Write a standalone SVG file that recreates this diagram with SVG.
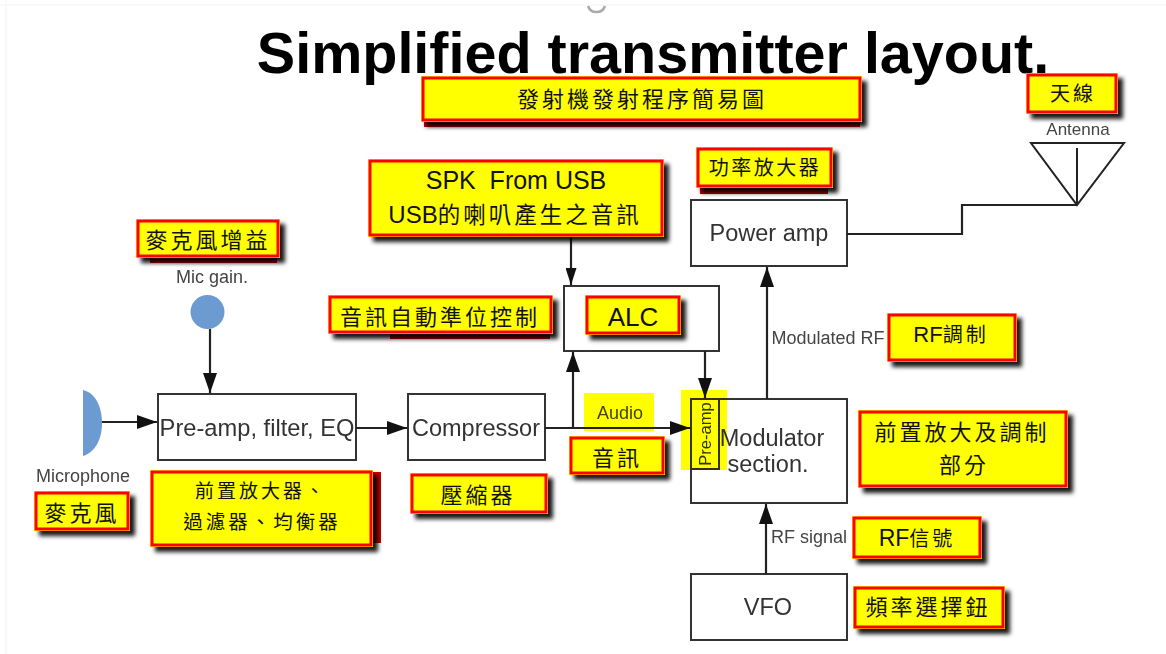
<svg xmlns="http://www.w3.org/2000/svg" width="1166" height="654" viewBox="0 0 1166 654">
<style>
text{font-family:"Liberation Sans",Arial,"Noto Sans CJK TC",sans-serif;text-anchor:middle;white-space:pre}
.box{fill:#fff;stroke:#333;stroke-width:2}
.lbl{font-size:23.5px;fill:#333}
.small{font-size:18px;fill:#444}
.co-o{fill:#ff0;filter:url(#sh)}
.co-i{fill:#ff0;stroke:#f00;stroke-width:3}
.back{fill:#c00}
.cj{font-family:"Noto Sans CJK TC","Liberation Sans",sans-serif;font-size:22px;fill:#111;letter-spacing:3px}
.en{font-size:26px;fill:#111}
.hl{fill:#ff0;mix-blend-mode:multiply}
.c{fill:none;stroke:#222;stroke-width:2.2}
.a{marker-end:url(#ah)}
.as{marker-end:url(#ahs)}
</style>
<defs>
<filter id="sh" x="-15%" y="-25%" width="130%" height="160%"><feDropShadow dx="5" dy="5" stdDeviation="2.2" flood-color="#000" flood-opacity="0.9"/></filter>
<marker id="ah" markerUnits="userSpaceOnUse" markerWidth="20" markerHeight="14" refX="20" refY="7" viewBox="0 0 20 14" orient="auto"><path d="M0 0L20 7L0 14Z" fill="#111"/></marker>
<marker id="ahs" markerUnits="userSpaceOnUse" markerWidth="17" markerHeight="11" refX="17" refY="5.500" viewBox="0 0 17 11" orient="auto"><path d="M0 0L17 5.500L0 11Z" fill="#111"/></marker>
</defs>
<rect width="1166" height="654" fill="#fff"/>
<path d="M6 0V654" stroke="#f2f2f2" stroke-width="1"/>
<path d="M0 5H1166" stroke="#f4f4f4" stroke-width="1"/>
<path d="M588 6A9 9 0 0 0 605 6" fill="none" stroke="#aaa" stroke-width="2.5"/>
<text id="title" x="653" y="73" font-size="57.5" font-weight="700" fill="#000">Simplified transmitter layout.</text>

<g id="power-amp"><rect class="box" x="691" y="200" width="156" height="66"/><text class="lbl" x="769" y="241">Power amp</text></g>
<g id="alc"><rect class="box" x="564" y="286" width="155" height="65"/></g>
<g id="preamp-filter"><rect class="box" x="158" y="394" width="198" height="66"/><text class="lbl" x="257" y="436" style="font-size:23.700px">Pre-amp, filter, EQ</text></g>
<g id="compressor"><rect class="box" x="408" y="394" width="137" height="66"/><text class="lbl" x="476" y="436">Compressor</text></g>
<g id="modulator"><rect class="box" x="691" y="399" width="156" height="104"/><text class="lbl" x="772" y="446">Modulator</text><text class="lbl" x="768" y="472">section.</text></g>
<g id="preamp-small"><rect x="691" y="399" width="28" height="70" fill="none" stroke="#333" stroke-width="2"/><text x="0" y="0" font-size="16.500" fill="#333" transform="translate(711,434) rotate(-90)">Pre-amp</text></g>
<g id="vfo"><rect class="box" x="691" y="574" width="156" height="66"/><text class="lbl" x="768" y="615">VFO</text></g>

<g id="microphone"><path d="M83 390C96 393 102 408 102 423C102 438 96 452 83 456Z" fill="#6b9bd1"/><text class="small" x="83" y="482">Microphone</text></g>
<g id="mic-gain"><circle cx="207.500" cy="312" r="17" fill="#6b9bd1"/><text class="small" x="212" y="283">Mic gain.</text></g>
<g id="antenna"><path d="M1031 143H1124L1077 205Z" fill="none" stroke="#222" stroke-width="2"/><path d="M1077 148V205" stroke="#222" stroke-width="2"/><text x="1078" y="135" font-size="17" fill="#444">Antenna</text></g>

<g id="connectors">
<path class="c a" d="M102 422H157"/>
<path class="c a" d="M210 329V393"/>
<path class="c a" d="M356 428H407"/>
<path class="c a" d="M545 428H690"/>
<path class="c a" d="M573 428V352"/>
<path class="c a" d="M705 351V398"/>
<path class="c as" d="M571 236V285"/>
<path class="c a" d="M767 399V267"/>
<path class="c a" d="M766 574V504"/>
<path class="c" d="M847 234H962V205H1077"/>
</g>

<text id="audio-label" class="small" x="620" y="419">Audio</text>
<text id="modulated-label" class="small" x="828" y="344">Modulated RF</text>
<text id="rf-label" class="small" x="809" y="543">RF signal</text>

<g id="highlights">
<rect class="hl" x="584" y="393" width="70" height="38"/>
<rect class="hl" x="681" y="390" width="46" height="80"/>
</g>

<g id="note-title"><rect class="back" x="424" y="118" width="436" height="9"/><rect class="co-o" x="421" y="76" width="441" height="46"/><rect class="co-i" x="423" y="78" width="437" height="42"/><text class="cj" x="642" y="107">發射機發射程序簡易圖</text></g>
<g id="note-antenna"><rect class="co-o" x="1026" y="73" width="92" height="41"/><rect class="co-i" x="1028" y="75" width="88" height="37"/><text class="cj" x="1073" y="101" style="font-size:20px">天線</text></g>
<g id="note-power"><rect class="back" x="700" y="185" width="128" height="9"/><rect class="co-o" x="696" y="147" width="137" height="41"/><rect class="co-i" x="698" y="149" width="133" height="37"/><text class="cj" x="765" y="175" style="font-size:20px;letter-spacing:2.500px">功率放大器</text></g>
<g id="note-spk"><rect class="co-o" x="368" y="159" width="296" height="78"/><rect class="co-i" x="370" y="161" width="292" height="74"/><text class="en" x="516" y="189" style="font-size:25px">SPK  From USB</text><text class="en" x="515" y="223" style="font-size:24px">USB<tspan class="cj" style="font-size:22.500px">的喇叭產生之音訊</tspan></text></g>
<g id="note-micgain"><rect class="back" x="150" y="255" width="127" height="8"/><rect class="co-o" x="136" y="219" width="144" height="39"/><rect class="co-i" x="138" y="221" width="140" height="35"/><text class="cj" x="208" y="248">麥克風增益</text></g>
<g id="note-agc"><rect class="back" x="390" y="331" width="160" height="8"/><rect class="co-o" x="328" y="295" width="225" height="39"/><rect class="co-i" x="330" y="297" width="221" height="35"/><text class="cj" x="440" y="325">音訊自動準位控制</text></g>
<g id="note-alc"><rect class="co-o" x="585" y="295" width="96" height="40"/><rect class="co-i" x="587" y="297" width="92" height="36"/><text class="en" x="633" y="326">ALC</text></g>
<g id="note-modrf"><rect class="co-o" x="887" y="313" width="130" height="49"/><rect class="co-i" x="889" y="315" width="126" height="45"/><text class="en" x="951" y="342" style="font-size:22px">RF<tspan class="cj" style="font-size:20px">調制</tspan></text></g>
<g id="note-audio"><rect class="co-o" x="569" y="436" width="96" height="39"/><rect class="co-i" x="571" y="438" width="92" height="35"/><text class="cj" x="617" y="466">音訊</text></g>
<g id="note-mic"><rect class="co-o" x="34" y="491" width="96" height="40"/><rect class="co-i" x="36" y="493" width="92" height="36"/><text class="cj" x="82" y="521">麥克風</text></g>
<g id="note-preamp"><rect class="back" x="360" y="472" width="21" height="71"/><rect class="co-o" x="150" y="470" width="223" height="77"/><rect class="co-i" x="152" y="472" width="219" height="73"/><text class="cj" x="261" y="498" style="font-size:19px">前置放大器、</text><text class="cj" x="262" y="529" style="font-size:19.500px">過濾器、均衡器</text></g>
<g id="note-compressor"><rect class="co-o" x="410" y="473" width="138" height="41"/><rect class="co-i" x="412" y="475" width="134" height="37"/><text class="cj" x="478" y="503">壓縮器</text></g>
<g id="note-modsec"><rect class="co-o" x="858" y="410" width="210" height="78"/><rect class="co-i" x="860" y="412" width="206" height="74"/><text class="cj" x="962" y="440">前置放大及調制</text><text class="cj" x="964" y="473">部分</text></g>
<g id="note-rfsig"><rect class="co-o" x="852" y="516" width="130" height="43"/><rect class="co-i" x="854" y="518" width="126" height="39"/><text class="en" x="917" y="546" style="font-size:23px">RF<tspan class="cj" style="font-size:20px">信號</tspan></text></g>
<g id="note-vfo"><rect class="co-o" x="853" y="586" width="152" height="43"/><rect class="co-i" x="855" y="588" width="148" height="39"/><text class="cj" x="928" y="615" style="font-size:22px">頻率選擇鈕</text></g>
</svg>
